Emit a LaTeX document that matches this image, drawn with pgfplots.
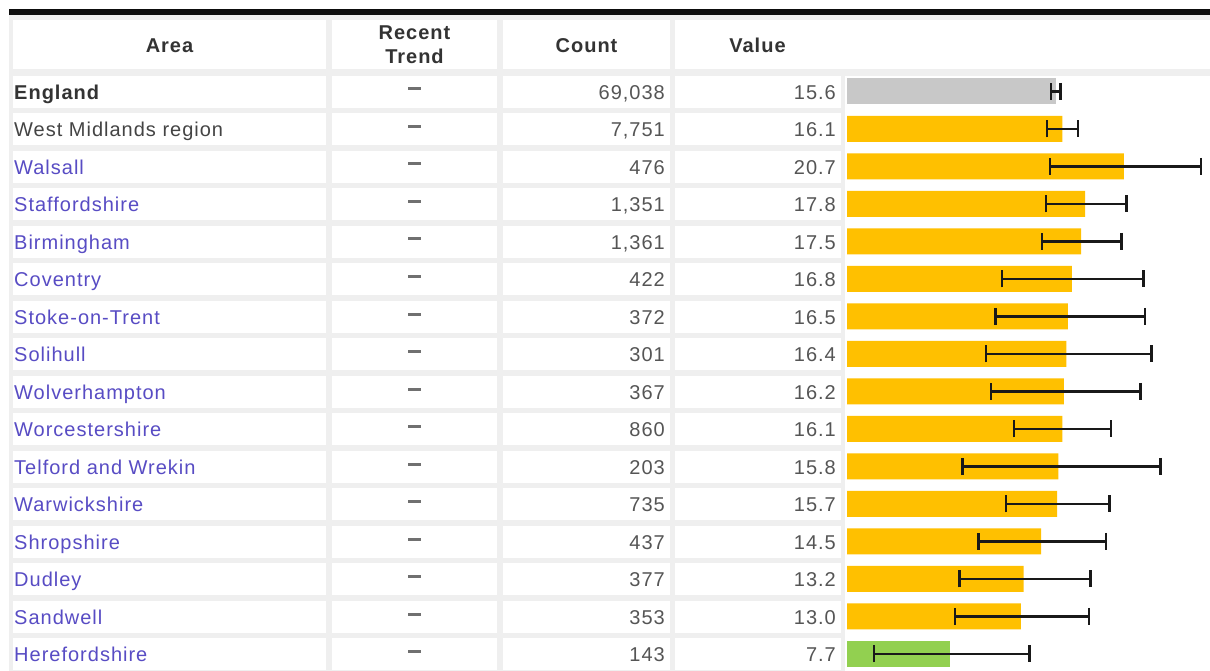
\documentclass[border=0pt]{standalone}
\usepackage{fontspec}
\setmainfont{Liberation Sans}[LetterSpace=5]
\usepackage{pgfplots}
\pgfplotsset{compat=1.18}
\usepackage{pgfplotstable}

\definecolor{gridgrey}{RGB}{239,239,239}
\definecolor{barY}{RGB}{255,192,0}
\definecolor{barG}{RGB}{146,208,80}
\definecolor{barE}{RGB}{200,200,200}
\definecolor{linkc}{RGB}{88,76,196}
\definecolor{numc}{RGB}{85,85,85}
\definecolor{hdr}{RGB}{51,51,51}
\definecolor{wmc}{RGB}{68,68,68}
\definecolor{trendc}{RGB}{112,112,112}

% i = row, v = value, em/ep = distance to lower/upper confidence limit
\pgfplotstableread{
i v em ep
0 15.6 0.35 0.37
}\eng
\pgfplotstableread{
i v em ep
1 16.1 1.15 1.16
2 20.7 5.53 5.76
3 17.8 2.94 3.08
4 17.5 2.93 3.03
5 16.8 5.22 5.35
6 16.5 5.41 5.77
7 16.4 6.01 6.37
8 16.2 5.44 5.75
9 16.1 3.62 3.63
10 15.8 7.15 7.64
11 15.7 3.82 3.90
12 14.5 4.69 4.86
13 13.2 4.81 5.01
14 13.0 4.93 5.09
}\yel
\pgfplotstableread{
i v em ep
15 7.7 5.70 5.95
}\grn

\newcommand\arow[5]{%
  \node[anchor=base west, inner sep=0pt, #2] at (14,{99.3+37.5*#1}) {#3};
  \draw[line width=3pt, trendc] (408,{89+37.5*#1}) -- (420.5,{89+37.5*#1});
  \node[anchor=base east, inner sep=0pt, numc] at (665,{99.3+37.5*#1}) {#4};
  \node[anchor=base east, inner sep=0pt, numc] at (836,{99.3+37.5*#1}) {#5};%
}

\begin{document}
\begin{tikzpicture}[x=1pt,y=-1pt,font=\fontsize{20}{24}\selectfont]
\useasboundingbox (0,0) rectangle (1210,671);
\fill[white] (0,0) rectangle (1210,671);
\fill[black!95] (9,9) rectangle (1210,15.5);
\fill[gridgrey] (9,15.5) rectangle (1210,671);
% header cells
\fill[white] (13,20) rectangle (326,69.5);
\fill[white] (331.7,20) rectangle (497.3,69.5);
\fill[white] (503.3,20) rectangle (670,69.5);
\fill[white] (675,20) rectangle (1210,69.5);
% bar column
\fill[white] (845,75.7) rectangle (1210,671);
% body cells
\foreach \i in {0,...,15}{
  \pgfmathsetmacro\t{75.7+37.5*\i}
  \pgfmathsetmacro\b{\t+32}
  \fill[white] (13,\t) rectangle (326,\b);
  \fill[white] (331.7,\t) rectangle (497.3,\b);
  \fill[white] (503.3,\t) rectangle (670,\b);
  \fill[white] (675,\t) rectangle (840.7,\b);
}
% header text
\node[anchor=base, inner sep=0pt, hdr, font=\fontsize{20}{24}\selectfont\bfseries] at (169.5,52.3) {Area};
\node[anchor=base, inner sep=0pt, hdr, font=\fontsize{20}{24}\selectfont\bfseries] at (414.5,40) {Recent};
\node[anchor=base, inner sep=0pt, hdr, font=\fontsize{20}{24}\selectfont\bfseries] at (414.5,64) {Trend};
\node[anchor=base, inner sep=0pt, hdr, font=\fontsize{20}{24}\selectfont\bfseries] at (586.5,52.3) {Count};
\node[anchor=base, inner sep=0pt, hdr, font=\fontsize{20}{24}\selectfont\bfseries] at (757.5,52.3) {Value};
% rows
\arow{0}{hdr,font=\fontsize{20}{24}\selectfont\bfseries}{England}{69,038}{15.6}
\arow{1}{wmc}{West Midlands region}{7,751}{16.1}
\arow{2}{linkc}{Walsall}{476}{20.7}
\arow{3}{linkc}{Staffordshire}{1,351}{17.8}
\arow{4}{linkc}{Birmingham}{1,361}{17.5}
\arow{5}{linkc}{Coventry}{422}{16.8}
\arow{6}{linkc}{Stoke-on-Trent}{372}{16.5}
\arow{7}{linkc}{Solihull}{301}{16.4}
\arow{8}{linkc}{Wolverhampton}{367}{16.2}
\arow{9}{linkc}{Worcestershire}{860}{16.1}
\arow{10}{linkc}{Telford and Wrekin}{203}{15.8}
\arow{11}{linkc}{Warwickshire}{735}{15.7}
\arow{12}{linkc}{Shropshire}{437}{14.5}
\arow{13}{linkc}{Dudley}{377}{13.2}
\arow{14}{linkc}{Sandwell}{353}{13.0}
\arow{15}{linkc}{Herefordshire}{143}{7.7}

\begin{axis}[at={(847pt,-72.5pt)}, anchor=north west, scale only axis,
  width=363pt, height=600pt, xmin=0, xmax=27.13, ymin=-0.5, ymax=15.5,
  y dir=reverse, hide axis, clip=false]
\pgfplotsset{myerr/.style={error bars/.cd, x dir=both, x explicit,
   error mark=|,
   error bar style={line width=2.5pt,black!90},
   error mark options={line width=2.5pt, mark size=8.5pt, black!90}}}
\addplot[xbar, bar width=26pt, fill=barE, draw=none, myerr]
  table[x=v, y=i, x error plus=ep, x error minus=em]{\eng};
\addplot[xbar, bar width=26pt, fill=barY, draw=none, myerr]
  table[x=v, y=i, x error plus=ep, x error minus=em]{\yel};
\addplot[xbar, bar width=26pt, fill=barG, draw=none, myerr]
  table[x=v, y=i, x error plus=ep, x error minus=em]{\grn};
\end{axis}
\end{tikzpicture}
\end{document}
